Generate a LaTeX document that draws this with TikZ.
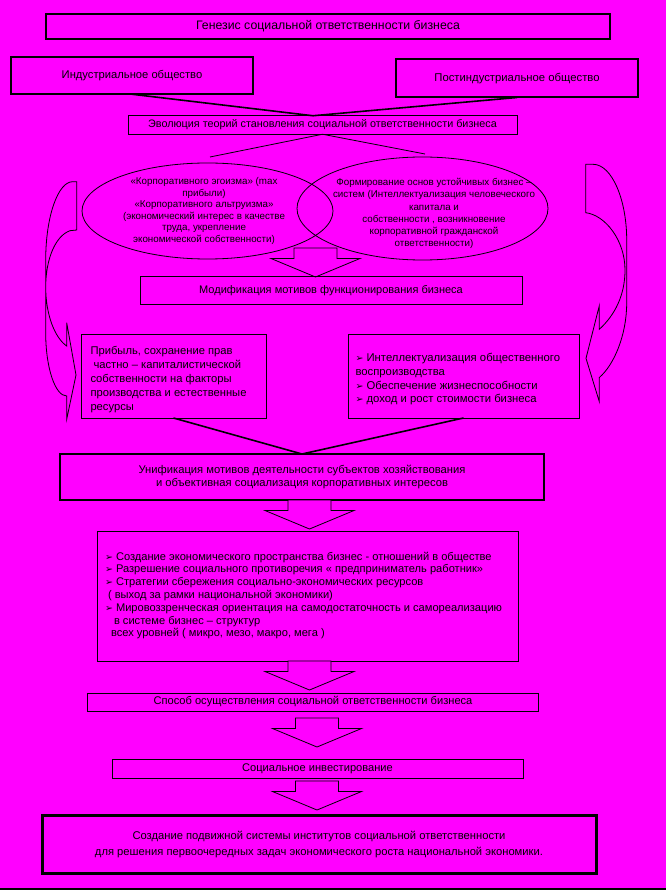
\documentclass[tikz,border=0pt]{standalone}
\usepackage{fontspec}
\setmainfont{Liberation Sans}
\newfontfamily\symfont{DejaVu Sans}
\usetikzlibrary{shapes.geometric}
\definecolor{bg}{RGB}{255,0,255}
\newcommand{\blt}{\raisebox{0pt}{\symfont\fontsize{9.5}{10}\selectfont ➢}}
\newcommand{\fs}[2]{\fontsize{#1}{#2}\selectfont}
\begin{document}
\begin{tikzpicture}[x=1pt,y=-1pt,
  every node/.style={inner sep=0pt,outer sep=0pt},
  box/.style={draw,rectangle,line width=0.8pt,align=center},
  tbox/.style={box,line width=2pt},
  ell/.style={draw,ellipse,line width=0.8pt,inner sep=0pt},
  txt/.style={align=center},
  ltxt/.style={align=left},
  link/.style={line width=1.6pt,line join=miter},
  thinlink/.style={line width=0.8pt},
  barrow/.style={draw,fill=bg,line width=0.8pt,line join=miter},
  curv/.style={draw,line width=0.8pt,line join=miter},
  blockarrow/.pic={\draw[barrow] (-21.5,0) -- (21.5,0) -- (21.5,10.5) -- (44.5,10.5) -- (0,29) -- (-44.5,10.5) -- (-21.5,10.5) -- cycle;}]
\fill[bg] (0,0) rectangle (666,890);
\useasboundingbox (0,0) rectangle (666,890);

% top
\node[tbox,minimum width=564,minimum height=25,font=\fs{12.3}{14}] (title) at (328,26.3) {Генезис социальной ответственности бизнеса};
\node[tbox,minimum width=242,minimum height=37.5,font=\fs{11.2}{14}] (ind) at (132,75.5) {Индустриальное общество};
\node[tbox,minimum width=242,minimum height=38,font=\fs{11.3}{14}] (post) at (517,78.5) {Постиндустриальное общество};
\node[box,minimum width=389,minimum height=18.5,font=\fs{10.8}{13}] (evo) at (322.5,125) {Эволюция теорий становления социальной ответственности бизнеса};
\coordinate (vj) at (313,115.75);
\draw[link] (ind.south) -- (vj) -- (post.south);

% ellipses
\node[ell,minimum width=251,minimum height=96] (el1) at (207.5,211) {};
\node[ell,minimum width=251,minimum height=103] (el2) at (422.5,208.5) {};
\node[txt,font=\fs{9.8}{11.6}] (el1t) at (204,211) {«Корпоративного эгоизма» (max\\прибыли)\\«Корпоративного альтруизма»\\(экономический интерес в качестве\\труда, укрепление\\экономической собственности)};
\node[txt,font=\fs{9.8}{12.2}] (el2t) at (434,213.5) {Формирование основ устойчивых бизнес –\\систем (Интеллектуализация человеческого\\капитала и\\собственности , возникновение\\корпоративной гражданской\\ответственности)};
\coordinate (e1top) at (210,157);
\coordinate (e2top) at (425,154);
\draw[thinlink] (e1top) -- (evo.south) -- (e2top);

\pic at (315.5,248) {blockarrow};
\node[box,minimum width=382,minimum height=27.5,font=\fs{11}{14}] (mod) at (331,290.5) {Модификация мотивов функционирования бизнеса};

% side boxes
\node[box,minimum width=185,minimum height=84] (lbox) at (173.5,376) {};
\node[ltxt,anchor=west,font=\fs{11.2}{13.8}] (lboxt) at (90.5,379.5) {Прибыль, сохранение прав\\\hspace*{3pt}частно – капиталистической\\собственности на факторы\\производства и естественные\\ресурсы};
\node[box,minimum width=231,minimum height=84] (rbox) at (463.5,376) {};
\node[ltxt,anchor=west,font=\fs{11.3}{13.8}] (rboxt) at (355.5,379.3) {\blt\ Интеллектуализация общественного\\воспроизводства\\\blt\ Обеспечение жизнеспособности\\\blt\ доход и рост стоимости бизнеса};

% curved arrows
\path[curv] (76.7,181.7) -- (72.7,181.7) .. controls (57.8,181.7) and (45.7,217) .. (45.7,260) -- (45.7,333) .. controls (45.7,367.6) and (55.1,396) .. (66.7,396) -- (66.7,419.3) -- (76,375) -- (66.7,322.7) -- (66.7,346) .. controls (55,338) and (45.7,315) .. (45.7,287) .. controls (45.7,260) and (55,236) .. (70,230.7) -- (76.7,230) -- cycle;
\path[curv] (585.7,164.3) -- (593,164.3) .. controls (612,164.3) and (626.7,200) .. (626.7,240) -- (626.7,303) .. controls (626.7,335) and (614,365) .. (599.3,377.5) -- (599.3,401.7) -- (586,358.3) -- (599.3,305.7) -- (599.3,329.3) .. controls (615,315) and (625,295) .. (625,270) .. controls (625,240) and (605,215) .. (585.7,212.7) -- cycle;

% unification
\node[box,line width=1.2pt,minimum width=484,minimum height=46,font=\fs{11.2}{12.5}] (unif) at (302,477) {Унификация мотивов деятельности субъектов хозяйствования\\и объективная социализация корпоративных интересов};
\draw[link] (lbox.south) -- (unif.north) -- (rbox.south);
\pic at (309.5,500) {blockarrow};

\node[box,minimum width=421,minimum height=130] (big) at (307.5,596) {};
\node[ltxt,anchor=west,font=\fs{11.1}{12.8}] (bigt) at (105,595.5) {\blt\ Создание экономического пространства бизнес - отношений в обществе\\\blt\ Разрешение социального противоречия « предприниматель работник»\\\blt\ Стратегии сбережения социально-экономических ресурсов\\\hspace*{3pt}( выход за рамки национальной экономики)\\\blt\ Мировоззренческая ориентация на самодостаточность и самореализацию\\\hspace*{9pt}в системе бизнес – структур\\\hspace*{6pt}всех уровней ( микро, мезо, макро, мега )};
\pic at (309.5,661) {blockarrow};

\node[box,minimum width=451,minimum height=18,font=\fs{11.1}{13}] (spos) at (313,702) {Способ осуществления социальной ответственности бизнеса};
\pic at (317,718) {blockarrow};
\node[box,minimum width=411,minimum height=19,font=\fs{11.1}{13}] (soc) at (317.5,768.5) {Социальное инвестирование};
\pic at (317,781) {blockarrow};
\node[draw,line width=3pt,minimum width=554,minimum height=58,align=center,font=\fs{11.2}{16}] (bot) at (319,844) {Создание подвижной системы институтов социальной ответственности\\для решения первоочередных задач экономического роста национальной экономики.};
\draw[line width=1.5pt] (0,889.2) -- (666,889.2);
\end{tikzpicture}
\end{document}
